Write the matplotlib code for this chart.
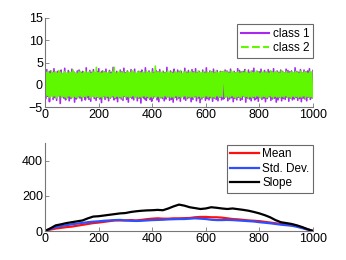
import numpy as np
import matplotlib
matplotlib.use("Agg")
import matplotlib.pyplot as plt
from matplotlib.lines import Line2D

# ---- data: top panel (noisy signals, hand-estimated samples) ----
class1 = [2.9,-3.1,3.4,-2.6,1.8,-3.8,3.1,-2.2,2.7,-3.3,3.6,-2.9,2.2,-3.5,3.0,-2.4,2.8,-4.2,3.3,-2.7,
          2.5,-3.0,3.7,-3.4,2.1,-2.8,3.2,-3.6,2.6,-3.1,3.5,-2.5,2.9,-3.9,2.4,-3.2,3.1,-2.7,3.3,-3.0,
          2.7,-3.6,3.0,-2.6,2.3,-3.4,3.8,-2.9,2.6,-3.3,3.2,-3.7,2.8,-2.5,3.4,-3.1,2.5,-3.5,3.0,-2.8,
          3.6,-3.2,2.7,-4.0,3.1,-2.6,2.9,-3.3,3.5,-2.9,2.4,-3.6,3.2,-3.0,2.8,-2.7,3.9,-3.4,2.6,-3.1,
          3.0,-3.8,2.5,-2.9,3.3,-3.2,2.9,-3.5,3.7,-2.6,2.7,-3.3,3.1,-3.9,2.6,-2.8,3.4,-3.1,2.8,-3.4,
          3.5,-2.7,2.4,-3.6,3.0,-3.0,2.9,-4.1,3.3,-2.8,2.6,-3.2,3.8,-3.5,2.7,-2.9,3.1,-3.3,2.5,-3.7,
          3.6,-3.0,2.8,-2.6,3.2,-3.4,2.9,-3.8,3.4,-2.9,2.6,-3.1,3.0,-3.6,2.7,-3.2,3.9,-2.7,2.5,-3.5,
          3.1,-3.3,2.8,-3.9,3.5,-2.8,2.6,-3.4,3.3,-3.0,2.9,-3.7,3.0,-2.6,2.4,-3.2,3.7,-3.5,2.8,-3.1,
          3.2,-2.9,2.6,-3.8,3.4,-3.3,2.9,-2.7,3.6,-3.6,2.7,-3.0,3.0,-4.0,2.5,-3.2,3.3,-2.8,2.8,-3.5,
          3.8,-3.1,2.6,-3.4,3.1,-2.9,2.9,-3.7,3.5,-3.0,2.7,-3.3,3.2,-3.6,2.4,-2.8,3.0,-3.4,2.9,-3.2,
          -3.0,3.3,-2.7,3.1,-3.6,2.8,-3.2,3.5,-2.9,2.6,-3.8,3.0,-3.1,2.7,-3.4,3.6,-2.8,3.2,-3.5,2.9,
          -3.3,3.0,-2.6,3.4,-3.9,2.7,-3.0,3.3,-3.2,2.8,-3.6,3.1,-2.9,3.7,-3.4,2.6,-3.1,3.0,-3.7,2.9,
          -2.8,3.5,-3.3,2.7,-3.0,3.2,-3.8,2.8,-3.1,3.4,-2.7,3.0,-3.5,2.9,-3.2,3.6,-3.0,2.6,-3.9,3.1,
          -3.4,2.8,-2.9,3.3,-3.6,3.0,-3.1,2.7,-3.3,3.5,-2.8,3.2,-3.7,2.9,-3.0,3.1,-3.4,2.6,-3.2,3.8,
          -2.9,3.0,-3.5,2.8,-3.1,3.4,-3.8,2.7,-3.0,3.3,-3.2,2.9,-3.6,3.1,-2.8,3.6,-3.3,2.7,-3.0,3.2]
class2 = [-2.7,2.8,-2.4,3.0,-2.9,2.5,-2.6,3.1,-2.8,2.7,-2.5,2.9,-3.0,2.6,-2.7,3.2,-2.4,2.8,-2.9,2.5,
          -2.6,3.0,-2.8,2.7,-3.1,2.6,-2.5,2.9,-2.7,2.8,-2.9,3.3,-2.6,2.7,-2.8,2.5,-3.0,2.9,-2.5,3.0,
          -2.7,2.6,-2.9,2.8,-2.6,3.1,-2.8,2.7,-2.4,2.9,-3.0,2.6,-2.7,3.0,-2.5,2.8,-2.8,3.9,-2.6,2.7,
          -2.9,2.9,-2.7,2.6,-3.1,3.0,-2.5,2.8,-2.8,2.7,-2.6,3.0,-3.0,2.5,-2.7,2.9,-2.5,3.9,-2.9,2.6,
          -2.6,2.8,-2.8,3.1,-2.7,2.7,-3.0,2.9,-2.5,2.6,-2.8,3.0,-2.6,2.8,-2.9,2.7,-2.7,3.2,-2.5,2.9,
          -3.0,2.6,-2.6,2.8,-2.8,3.0,-2.7,2.7,-2.9,2.9,-2.5,2.6,-2.8,3.1,-2.6,2.8,-3.0,2.7,-2.7,3.0,
          -2.9,2.6,-2.5,4.2,-2.8,2.8,-2.6,2.9,-3.0,2.7,-2.7,3.0,-2.9,2.6,-2.5,2.8,-2.8,3.1,-2.6,2.7,
          -2.9,2.9,-2.7,2.6,-3.0,3.0,-2.5,2.8,-2.8,2.7,-2.6,3.2,-2.9,2.5,-2.7,2.9,-2.5,3.0,-3.0,2.6,
          -2.6,2.8,-2.8,3.0,-2.7,2.7,-2.9,2.9,-2.5,2.6,-2.8,3.1,-2.6,2.8,-3.0,2.7,-2.7,3.0,-2.9,2.6,
          -2.5,2.9,-2.8,2.7,-2.6,3.0,-3.0,2.8,-2.7,2.6,-2.9,3.1,-2.5,2.7,-2.8,2.9,-2.6,2.8,-2.7,3.0,
          2.7,-2.8,3.0,-2.6,2.8,-2.9,2.6,-2.7,3.1,-2.5,2.9,-2.8,2.7,-3.0,2.8,-2.6,3.0,-2.7,2.6,-2.9,
          2.9,-2.5,2.7,-2.8,3.2,-2.6,2.8,-3.0,2.6,-2.7,3.0,-2.9,2.8,-2.6,2.7,-2.8,3.1,-2.5,2.9,-2.7,
          2.6,-3.0,2.8,-2.7,3.0,-2.6,2.7,-2.9,2.9,-2.8,2.6,-2.5,3.2,-2.7,2.8,-3.0,2.7,-2.6,3.0,-2.8,
          2.8,-2.7,2.6,-2.9,3.1,-2.6,2.9,-2.8,2.7,-2.5,3.0,-2.9,2.6,-2.7,2.8,-3.0,2.9,-2.6,2.7,-2.8,
          3.0,-2.6,2.8,-2.9,2.6,-2.7,3.1,-2.8,2.7,-2.5,2.9,-3.0,2.8,-2.6,2.6,-2.8,3.0,-2.7,2.9,-2.9]

# ---- data: bottom panel ----
pos = [0,20,40,60,80,100,120,140,160,180,200,220,240,260,280,300,320,340,360,380,400,420,440,460,480,
       500,520,540,560,580,600,620,640,660,680,700,720,740,760,780,800,820,840,860,880,900,920,940,960,980,1000]
mean = [0,8,14,18,22,25,30,35,40,45,48,52,56,60,60,60,62,60,63,67,70,72,70,70,72,
        72,73,74,78,80,80,78,78,76,72,68,66,63,60,58,56,52,48,44,40,37,33,28,20,10,0]
std = [0,12,22,28,33,38,42,46,50,53,55,58,60,62,63,60,58,57,58,60,62,63,64,66,67,
       68,68,70,72,70,68,64,62,62,63,62,60,58,56,54,50,47,44,40,36,33,30,24,16,8,0]
slope = [0,15,32,38,45,50,55,60,72,82,84,88,92,96,100,102,108,112,115,117,118,120,118,128,140,
         150,144,135,130,125,128,135,132,128,125,128,124,120,115,108,100,90,78,62,50,45,40,32,22,10,0]

top_xticks = [0,200,400,600,800,1000]
top_yticks = [-5,0,5,10,15]
bot_yticks = [0,200,400]

plt.rcParams['font.family'] = ['Liberation Sans', 'DejaVu Sans']
fig = plt.figure(figsize=(3.46, 2.60), dpi=100)

purple = '#a828f0'
green = '#60f800'

def style(ax):
    for s in ['top', 'right']:
        ax.spines[s].set_visible(False)
    for s in ['left', 'bottom']:
        ax.spines[s].set_color('#777777')
        ax.spines[s].set_linewidth(0.8)
    ax.tick_params(direction='in', length=3, width=0.6, color='#777777',
                   labelsize=9, pad=1.5)

ax1 = fig.add_axes([45/346, 1-107/260, 268/346, 89/260])
x1 = np.linspace(0, 1000, len(class1))
x2 = np.linspace(1.5, 998.5, len(class2))
ax1.plot(x1, class1, color=purple, lw=1.2)
ax1.plot(x2, class2, color=green, lw=1.2)
ax1.set_xlim(0, 1000)
ax1.set_ylim(-5, 15)
ax1.set_xticks(top_xticks)
ax1.set_yticks(top_yticks)
ax1.set_yticklabels(['\u22125', '0', '5', '10', '15'])
style(ax1)
h = [Line2D([], [], color=purple, lw=1.5, ls='-'),
     Line2D([], [], color=green, lw=1.5, ls='--')]
leg1 = ax1.legend(h, ['class 1', 'class 2'], loc='upper right', bbox_to_anchor=(1.0, 0.93),
                  fontsize=8.5, frameon=True, fancybox=False, handlelength=2.4,
                  handletextpad=0.3, borderpad=0.3, labelspacing=0.2, borderaxespad=0.0)
leg1.get_frame().set_edgecolor('#444444')
leg1.get_frame().set_linewidth(0.8)

ax2 = fig.add_axes([45/346, 1-231/260, 268/346, 88/260])
ax2.plot(pos, mean, color='#ff1010', lw=1.6, label='Mean')
ax2.plot(pos, std, color='#2f4fff', lw=1.6, label='Std. Dev.')
ax2.plot(pos, slope, color='black', lw=1.6, label='Slope')
ax2.set_xlim(0, 1000)
ax2.set_ylim(0, 500)
ax2.set_xticks(top_xticks)
ax2.set_yticks(bot_yticks)
style(ax2)
leg2 = ax2.legend(loc='upper right', bbox_to_anchor=(1.0, 0.98),
                  fontsize=8.5, frameon=True, fancybox=False, handlelength=2.4,
                  handletextpad=0.3, borderpad=0.3, labelspacing=0.2, borderaxespad=0.0)
leg2.get_frame().set_edgecolor('#444444')
leg2.get_frame().set_linewidth(0.8)

fig.savefig('out.png', dpi=100)
